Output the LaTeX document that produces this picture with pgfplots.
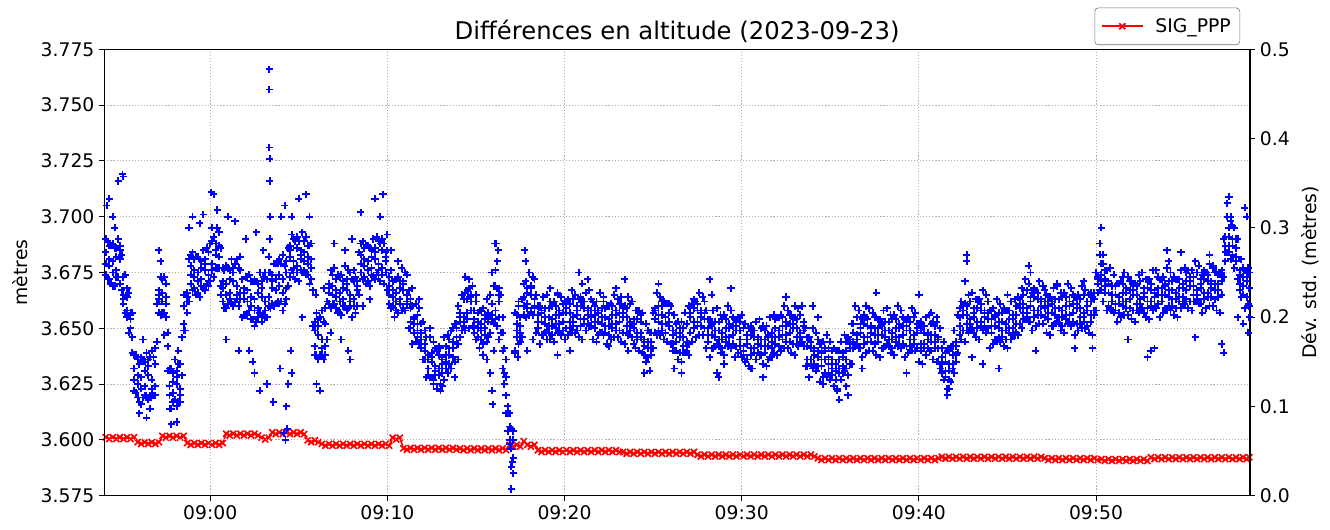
\documentclass[border=0pt]{standalone}
\usepackage{fontspec}
\setmainfont{DejaVu Sans}
\usepackage{pgfplots}
\usepackage{pgfplotstable}
\pgfplotsset{compat=1.18}
\pgfdeclareplotmark{bplus}{%
  \pgfsetstrokecolor{blue}%
  \pgfpathmoveto{\pgfqpoint{-\pgfplotmarksize}{0pt}}%
  \pgfpathlineto{\pgfqpoint{\pgfplotmarksize}{0pt}}%
  \pgfpathmoveto{\pgfqpoint{0pt}{-\pgfplotmarksize}}%
  \pgfpathlineto{\pgfqpoint{0pt}{\pgfplotmarksize}}%
  \pgfusepathqstroke}
\pgfplotstableread{
t a b c d r
-5.9 3.684 3.674 3.690 3.679 0.0655
-5.7 3.678 3.687 3.672 3.681 0.0635
-5.5 3.688 3.680 3.675 3.669 0.0655
-5.3 3.673 3.682 3.686 3.676 0.0635
-5.1 3.681 3.670 3.685 3.687 0.0655
-4.9 3.663 3.673 3.665 3.661 0.0635
-4.7 3.664 3.658 3.655 3.668 0.0655
-4.5 3.654 3.657 3.650 3.656 0.0635
-4.3 3.632 3.622 3.638 3.627 0.0655
-4.1 3.625 3.636 3.619 3.629 0.0600
-3.9 3.637 3.628 3.623 3.616 0.0580
-3.7 3.620 3.631 3.635 3.624 0.0600
-3.5 3.629 3.618 3.633 3.636 0.0580
-3.3 3.623 3.640 3.627 3.620 0.0600
-3.1 3.634 3.624 3.620 3.641 0.0580
-2.9 3.663 3.667 3.657 3.665 0.0600
-2.7 3.666 3.657 3.672 3.662 0.0670
-2.5 3.661 3.670 3.655 3.664 0.0650
-2.3 3.632 3.624 3.620 3.614 0.0670
-2.1 3.617 3.626 3.630 3.621 0.0650
-1.9 3.625 3.615 3.628 3.631 0.0670
-1.7 3.620 3.634 3.623 3.617 0.0650
-1.5 3.660 3.652 3.649 3.665 0.0670
-1.3 3.662 3.666 3.657 3.664 0.0590
-1.1 3.678 3.670 3.683 3.674 0.0570
-0.9 3.673 3.681 3.668 3.676 0.0590
-0.7 3.682 3.675 3.671 3.666 0.0570
-0.5 3.669 3.677 3.680 3.672 0.0590
-0.3 3.676 3.667 3.679 3.681 0.0570
-0.1 3.671 3.684 3.674 3.669 0.0590
0.1 3.689 3.679 3.676 3.695 0.0570
0.3 3.683 3.688 3.677 3.685 0.0590
0.5 3.687 3.677 3.693 3.682 0.0570
0.7 3.668 3.677 3.662 3.671 0.0590
0.9 3.678 3.670 3.665 3.659 0.0695
1.1 3.663 3.672 3.676 3.666 0.0675
1.3 3.671 3.660 3.675 3.677 0.0695
1.5 3.665 3.681 3.669 3.663 0.0675
1.7 3.676 3.666 3.663 3.682 0.0695
1.9 3.663 3.668 3.656 3.666 0.0675
2.1 3.667 3.656 3.673 3.662 0.0695
2.3 3.660 3.671 3.654 3.664 0.0675
2.5 3.672 3.663 3.658 3.651 0.0695
2.7 3.655 3.666 3.670 3.659 0.0675
2.9 3.664 3.653 3.668 3.671 0.0650
3.1 3.658 3.675 3.662 3.655 0.0630
3.3 3.675 3.664 3.660 3.682 0.0650
3.5 3.668 3.674 3.661 3.671 0.0710
3.7 3.672 3.661 3.679 3.667 0.0690
3.9 3.669 3.681 3.661 3.674 0.0710
4.1 3.683 3.672 3.666 3.658 0.0690
4.3 3.663 3.675 3.680 3.668 0.0710
4.5 3.682 3.673 3.685 3.687 0.0690
4.7 3.677 3.690 3.680 3.675 0.0710
4.9 3.686 3.678 3.675 3.691 0.0690
5.1 3.681 3.685 3.676 3.683 0.0710
5.3 3.684 3.676 3.689 3.680 0.0690
5.5 3.679 3.687 3.674 3.682 0.0620
5.7 3.688 3.681 3.677 3.672 0.0600
5.9 3.638 3.649 3.653 3.642 0.0620
6.1 3.647 3.636 3.651 3.654 0.0600
6.3 3.641 3.658 3.645 3.638 0.0580
6.5 3.652 3.642 3.638 3.659 0.0560
6.7 3.666 3.670 3.661 3.668 0.0580
6.9 3.669 3.661 3.674 3.665 0.0560
7.1 3.664 3.672 3.659 3.667 0.0580
7.3 3.673 3.666 3.662 3.657 0.0560
7.5 3.660 3.668 3.671 3.663 0.0580
7.7 3.667 3.658 3.670 3.672 0.0560
7.9 3.662 3.675 3.665 3.660 0.0580
8.1 3.671 3.663 3.660 3.676 0.0560
8.3 3.667 3.671 3.660 3.669 0.0580
8.5 3.683 3.675 3.688 3.679 0.0560
8.7 3.678 3.686 3.673 3.681 0.0580
8.9 3.687 3.680 3.676 3.671 0.0560
9.1 3.674 3.682 3.685 3.677 0.0580
9.3 3.681 3.672 3.684 3.686 0.0560
9.5 3.676 3.689 3.679 3.674 0.0580
9.7 3.685 3.677 3.674 3.690 0.0560
9.9 3.680 3.684 3.675 3.682 0.0580
10.1 3.669 3.661 3.673 3.665 0.0560
10.3 3.664 3.671 3.660 3.667 0.0650
10.5 3.672 3.666 3.662 3.658 0.0630
10.7 3.661 3.668 3.671 3.663 0.0650
10.9 3.667 3.659 3.670 3.671 0.0530
11.1 3.662 3.674 3.665 3.661 0.0515
11.3 3.659 3.653 3.650 3.663 0.0535
11.5 3.652 3.655 3.648 3.654 0.0515
11.7 3.652 3.646 3.656 3.649 0.0535
11.9 3.645 3.652 3.641 3.648 0.0515
12.1 3.649 3.643 3.640 3.636 0.0535
12.3 3.629 3.636 3.638 3.632 0.0515
12.5 3.635 3.628 3.637 3.639 0.0535
12.7 3.631 3.641 3.633 3.629 0.0515
12.9 3.638 3.632 3.629 3.642 0.0535
13.1 3.634 3.637 3.630 3.636 0.0515
13.3 3.638 3.632 3.642 3.635 0.0535
13.5 3.638 3.645 3.634 3.641 0.0515
13.7 3.650 3.644 3.641 3.637 0.0535
13.9 3.643 3.650 3.652 3.646 0.0515
14.1 3.653 3.646 3.655 3.657 0.0530
14.3 3.653 3.663 3.655 3.651 0.0510
14.5 3.663 3.657 3.654 3.667 0.0530
14.7 3.662 3.665 3.658 3.664 0.0510
14.9 3.654 3.648 3.658 3.651 0.0530
15.1 3.650 3.657 3.646 3.653 0.0510
15.3 3.658 3.652 3.649 3.645 0.0530
15.5 3.647 3.654 3.656 3.650 0.0510
15.7 3.653 3.646 3.655 3.657 0.0530
15.9 3.656 3.675 3.661 3.654 0.0510
16.1 3.669 3.658 3.654 3.676 0.0530
16.3 3.662 3.668 3.655 3.665 0.0510
16.5 3.648 3.640 3.632 3.655 0.0530
16.7 3.628 3.620 3.612 3.636 0.0510
16.9 3.606 3.598 3.612 3.600 0.0570
17.1 3.592 3.600 3.585 3.604 0.0550
17.3 3.652 3.646 3.656 3.649 0.0570
17.5 3.648 3.655 3.644 3.651 0.0550
17.7 3.670 3.664 3.660 3.656 0.0610
17.9 3.659 3.666 3.668 3.661 0.0570
18.1 3.665 3.657 3.668 3.669 0.0550
18.3 3.660 3.672 3.663 3.659 0.0570
18.5 3.656 3.650 3.660 3.653 0.0510
18.7 3.653 3.658 3.647 3.657 0.0490
18.9 3.652 3.659 3.648 3.655 0.0510
19.1 3.659 3.651 3.655 3.648 0.0490
19.3 3.660 3.654 3.651 3.647 0.0510
19.5 3.650 3.660 3.656 3.652 0.0490
19.7 3.649 3.656 3.658 3.652 0.0510
19.9 3.657 3.649 3.653 3.661 0.0490
20.1 3.657 3.650 3.659 3.661 0.0510
20.3 3.650 3.657 3.661 3.653 0.0490
20.5 3.653 3.663 3.655 3.651 0.0510
20.7 3.658 3.649 3.660 3.656 0.0490
20.9 3.660 3.654 3.651 3.664 0.0510
21.1 3.654 3.659 3.652 3.662 0.0490
21.3 3.656 3.659 3.652 3.658 0.0510
21.5 3.663 3.655 3.651 3.658 0.0490
21.7 3.656 3.650 3.660 3.653 0.0510
21.9 3.653 3.658 3.647 3.657 0.0490
22.1 3.652 3.659 3.648 3.655 0.0510
22.3 3.659 3.651 3.655 3.648 0.0490
22.5 3.660 3.654 3.651 3.647 0.0510
22.7 3.650 3.660 3.656 3.652 0.0490
22.9 3.649 3.656 3.658 3.652 0.0510
23.1 3.657 3.649 3.653 3.661 0.0490
23.3 3.655 3.648 3.657 3.659 0.0490
23.5 3.648 3.655 3.659 3.651 0.0470
23.7 3.651 3.661 3.653 3.649 0.0490
23.9 3.652 3.643 3.654 3.650 0.0470
24.1 3.654 3.648 3.645 3.658 0.0490
24.3 3.648 3.653 3.646 3.656 0.0470
24.5 3.642 3.645 3.638 3.644 0.0490
24.7 3.649 3.641 3.637 3.644 0.0470
24.9 3.644 3.638 3.648 3.641 0.0490
25.1 3.654 3.659 3.648 3.658 0.0470
25.3 3.653 3.660 3.649 3.656 0.0490
25.5 3.660 3.652 3.656 3.649 0.0470
25.7 3.661 3.655 3.652 3.648 0.0490
25.9 3.651 3.661 3.657 3.653 0.0470
26.1 3.640 3.647 3.649 3.643 0.0490
26.3 3.648 3.640 3.644 3.652 0.0470
26.5 3.646 3.639 3.648 3.650 0.0490
26.7 3.639 3.646 3.650 3.642 0.0470
26.9 3.642 3.652 3.644 3.640 0.0490
27.1 3.657 3.648 3.659 3.655 0.0470
27.3 3.659 3.653 3.650 3.663 0.0490
27.5 3.653 3.658 3.651 3.661 0.0460
27.7 3.655 3.658 3.651 3.657 0.0440
27.9 3.662 3.654 3.650 3.657 0.0460
28.1 3.650 3.644 3.654 3.647 0.0440
28.3 3.647 3.652 3.641 3.651 0.0460
28.5 3.646 3.653 3.642 3.649 0.0440
28.7 3.653 3.645 3.649 3.642 0.0460
28.9 3.654 3.648 3.645 3.641 0.0440
29.1 3.644 3.654 3.650 3.646 0.0460
29.3 3.643 3.650 3.652 3.646 0.0440
29.5 3.651 3.643 3.647 3.655 0.0460
29.7 3.649 3.642 3.651 3.653 0.0440
29.9 3.642 3.649 3.653 3.645 0.0460
30.1 3.640 3.650 3.642 3.638 0.0440
30.3 3.645 3.636 3.647 3.643 0.0460
30.5 3.647 3.641 3.638 3.651 0.0440
30.7 3.641 3.646 3.639 3.649 0.0460
30.9 3.643 3.646 3.639 3.645 0.0440
31.1 3.650 3.642 3.638 3.645 0.0460
31.3 3.645 3.639 3.649 3.642 0.0440
31.5 3.642 3.647 3.636 3.646 0.0460
31.7 3.641 3.648 3.637 3.644 0.0440
31.9 3.654 3.646 3.650 3.643 0.0460
32.1 3.655 3.649 3.646 3.642 0.0440
32.3 3.645 3.655 3.651 3.647 0.0460
32.5 3.644 3.651 3.653 3.647 0.0440
32.7 3.652 3.644 3.648 3.656 0.0460
32.9 3.650 3.643 3.652 3.654 0.0440
33.1 3.643 3.650 3.654 3.646 0.0460
33.3 3.646 3.656 3.648 3.644 0.0440
33.5 3.651 3.642 3.653 3.649 0.0460
33.7 3.642 3.636 3.633 3.646 0.0440
33.9 3.636 3.641 3.634 3.644 0.0460
34.1 3.638 3.641 3.634 3.640 0.0440
34.3 3.645 3.637 3.633 3.640 0.0420
34.5 3.639 3.633 3.643 3.636 0.0400
34.7 3.636 3.641 3.630 3.640 0.0420
34.9 3.634 3.641 3.630 3.637 0.0400
35.1 3.640 3.632 3.636 3.629 0.0420
35.3 3.640 3.634 3.631 3.627 0.0400
35.5 3.630 3.640 3.636 3.632 0.0420
35.7 3.630 3.637 3.639 3.633 0.0400
35.9 3.640 3.632 3.636 3.644 0.0420
36.1 3.641 3.634 3.643 3.645 0.0400
36.3 3.641 3.648 3.652 3.644 0.0420
36.5 3.645 3.655 3.647 3.643 0.0400
36.7 3.650 3.641 3.652 3.648 0.0420
36.9 3.652 3.646 3.643 3.656 0.0400
37.1 3.646 3.651 3.644 3.654 0.0420
37.3 3.648 3.651 3.644 3.650 0.0400
37.5 3.655 3.647 3.643 3.650 0.0420
37.7 3.650 3.644 3.654 3.647 0.0400
37.9 3.647 3.652 3.641 3.651 0.0420
38.1 3.646 3.653 3.642 3.649 0.0400
38.3 3.653 3.645 3.649 3.642 0.0420
38.5 3.654 3.648 3.645 3.641 0.0400
38.7 3.644 3.654 3.650 3.646 0.0420
38.9 3.643 3.650 3.652 3.646 0.0400
39.1 3.651 3.643 3.647 3.655 0.0420
39.3 3.649 3.642 3.651 3.653 0.0400
39.5 3.642 3.649 3.653 3.645 0.0420
39.7 3.645 3.655 3.647 3.643 0.0400
39.9 3.650 3.641 3.652 3.648 0.0420
40.1 3.649 3.643 3.640 3.653 0.0400
40.3 3.643 3.648 3.641 3.651 0.0420
40.5 3.645 3.648 3.641 3.647 0.0400
40.7 3.652 3.644 3.640 3.647 0.0420
40.9 3.647 3.641 3.651 3.644 0.0400
41.1 3.641 3.646 3.635 3.645 0.0420
41.3 3.634 3.641 3.630 3.637 0.0435
41.5 3.639 3.631 3.635 3.628 0.0415
41.7 3.640 3.634 3.631 3.627 0.0435
41.9 3.632 3.642 3.638 3.634 0.0415
42.1 3.635 3.642 3.644 3.638 0.0435
42.3 3.655 3.647 3.651 3.659 0.0415
42.5 3.656 3.649 3.658 3.660 0.0435
42.7 3.649 3.656 3.660 3.652 0.0415
42.9 3.652 3.662 3.654 3.650 0.0435
43.1 3.657 3.648 3.659 3.655 0.0415
43.3 3.659 3.653 3.650 3.663 0.0435
43.5 3.653 3.658 3.651 3.661 0.0415
43.7 3.655 3.658 3.651 3.657 0.0435
43.9 3.662 3.654 3.650 3.657 0.0415
44.1 3.654 3.648 3.658 3.651 0.0435
44.3 3.651 3.656 3.645 3.655 0.0415
44.5 3.650 3.657 3.646 3.653 0.0435
44.7 3.657 3.649 3.653 3.646 0.0415
44.9 3.658 3.652 3.649 3.645 0.0435
45.1 3.648 3.658 3.654 3.650 0.0415
45.3 3.647 3.654 3.656 3.650 0.0435
45.5 3.656 3.648 3.652 3.660 0.0415
45.7 3.659 3.652 3.661 3.663 0.0435
45.9 3.654 3.661 3.665 3.657 0.0415
46.1 3.657 3.667 3.659 3.655 0.0435
46.3 3.662 3.653 3.664 3.660 0.0415
46.5 3.664 3.658 3.655 3.668 0.0435
46.7 3.658 3.663 3.656 3.666 0.0415
46.9 3.660 3.663 3.656 3.662 0.0435
47.1 3.667 3.659 3.655 3.662 0.0420
47.3 3.660 3.654 3.664 3.657 0.0400
47.5 3.657 3.662 3.651 3.661 0.0420
47.7 3.656 3.663 3.652 3.659 0.0400
47.9 3.663 3.655 3.659 3.652 0.0420
48.1 3.664 3.658 3.655 3.651 0.0400
48.3 3.654 3.664 3.660 3.656 0.0420
48.5 3.653 3.660 3.662 3.656 0.0400
48.7 3.661 3.653 3.657 3.665 0.0420
48.9 3.659 3.652 3.661 3.663 0.0400
49.1 3.652 3.659 3.663 3.655 0.0420
49.3 3.655 3.665 3.657 3.653 0.0400
49.5 3.660 3.651 3.662 3.658 0.0420
49.7 3.662 3.656 3.653 3.666 0.0400
49.9 3.658 3.663 3.656 3.666 0.0420
50.1 3.670 3.673 3.666 3.672 0.0400
50.3 3.679 3.671 3.667 3.674 0.0410
50.5 3.672 3.666 3.676 3.669 0.0390
50.7 3.666 3.671 3.660 3.670 0.0410
50.9 3.662 3.669 3.658 3.665 0.0390
51.1 3.669 3.661 3.665 3.658 0.0410
51.3 3.670 3.664 3.661 3.657 0.0390
51.5 3.660 3.670 3.666 3.662 0.0410
51.7 3.659 3.666 3.668 3.662 0.0390
51.9 3.667 3.659 3.663 3.671 0.0410
52.1 3.665 3.658 3.667 3.669 0.0390
52.3 3.658 3.665 3.669 3.661 0.0410
52.5 3.661 3.671 3.663 3.659 0.0390
52.7 3.666 3.657 3.668 3.664 0.0410
52.9 3.668 3.662 3.659 3.672 0.0390
53.1 3.662 3.667 3.660 3.670 0.0430
53.3 3.664 3.667 3.660 3.666 0.0410
53.5 3.673 3.665 3.661 3.668 0.0430
53.7 3.668 3.662 3.672 3.665 0.0410
53.9 3.665 3.670 3.659 3.669 0.0430
54.1 3.664 3.671 3.660 3.667 0.0410
54.3 3.671 3.663 3.667 3.660 0.0430
54.5 3.672 3.666 3.663 3.659 0.0410
54.7 3.662 3.672 3.668 3.664 0.0430
54.9 3.661 3.668 3.670 3.664 0.0410
55.1 3.671 3.663 3.667 3.675 0.0430
55.3 3.669 3.662 3.671 3.673 0.0410
55.5 3.662 3.669 3.673 3.665 0.0430
55.7 3.665 3.675 3.667 3.663 0.0410
55.9 3.670 3.661 3.672 3.668 0.0430
56.1 3.672 3.666 3.663 3.676 0.0410
56.3 3.666 3.671 3.664 3.674 0.0430
56.5 3.668 3.671 3.664 3.670 0.0410
56.7 3.675 3.667 3.663 3.670 0.0430
56.9 3.670 3.664 3.674 3.667 0.0410
57.1 3.671 3.676 3.665 3.675 0.0430
57.3 3.684 3.691 3.680 3.687 0.0410
57.5 3.695 3.687 3.691 3.684 0.0430
57.7 3.696 3.690 3.687 3.683 0.0410
57.9 3.680 3.690 3.686 3.682 0.0430
58.1 3.667 3.674 3.676 3.670 0.0410
58.3 3.673 3.665 3.669 3.677 0.0430
58.5 3.671 3.664 3.673 3.675 0.0410
58.65 3.668 3.660 3.675 3.655 0.0430
}\maintab
\pgfplotstableread{
t e f
-5.8 3.689 3.672
-5.6 3.670 3.687
-5.4 3.686 3.669
-5.2 3.673 3.690
-5.0 3.683 3.667
-4.8 3.657 3.674
-4.6 3.666 3.648
-4.4 3.639 3.657
-4.2 3.638 3.621
-4.0 3.617 3.634
-3.8 3.635 3.619
-3.6 3.620 3.639
-3.4 3.637 3.620
-3.2 3.620 3.637
-3.0 3.661 3.644
-2.8 3.656 3.673
-2.6 3.673 3.657
-2.4 3.631 3.648
-2.2 3.632 3.614
-2.0 3.618 3.636
-1.8 3.634 3.617
-1.6 3.629 3.646
-1.4 3.665 3.649
-1.2 3.662 3.681
-1.0 3.684 3.667
-0.8 3.665 3.682
-0.6 3.681 3.664
-0.4 3.668 3.685
-0.2 3.686 3.670
0.0 3.671 3.688
0.2 3.691 3.673
0.4 3.677 3.695
0.6 3.686 3.669
0.8 3.659 3.676
1.0 3.677 3.661
1.2 3.662 3.681
1.4 3.679 3.662
1.6 3.660 3.677
1.8 3.672 3.655
2.0 3.656 3.673
2.2 3.674 3.658
2.4 3.654 3.671
2.6 3.671 3.653
2.8 3.657 3.675
3.0 3.673 3.656
3.2 3.655 3.672
3.4 3.675 3.659
3.6 3.660 3.679
3.8 3.679 3.662
4.0 3.662 3.679
4.2 3.678 3.661
4.4 3.669 3.686
4.6 3.692 3.676
4.8 3.672 3.689
5.0 3.689 3.671
5.2 3.675 3.693
5.4 3.691 3.674
5.6 3.670 3.687
5.8 3.667 3.651
6.0 3.638 3.657
6.2 3.655 3.638
6.4 3.636 3.653
6.6 3.662 3.645
6.8 3.659 3.676
7.0 3.677 3.661
7.2 3.657 3.674
7.4 3.674 3.656
7.6 3.660 3.678
7.8 3.676 3.659
8.0 3.655 3.672
8.2 3.673 3.657
8.4 3.665 3.684
8.6 3.689 3.672
8.8 3.670 3.687
9.0 3.686 3.669
9.2 3.673 3.690
9.4 3.691 3.675
9.6 3.671 3.688
9.8 3.688 3.670
10.0 3.667 3.685
10.2 3.676 3.659
10.4 3.655 3.672
10.6 3.673 3.657
10.8 3.658 3.677
11.0 3.675 3.658
11.2 3.650 3.667
11.4 3.660 3.643
11.6 3.644 3.661
11.8 3.659 3.643
12.0 3.636 3.653
12.2 3.646 3.628
12.4 3.628 3.646
12.6 3.644 3.627
12.8 3.623 3.640
13.0 3.641 3.625
13.2 3.627 3.646
13.4 3.647 3.630
13.6 3.632 3.649
13.8 3.652 3.635
14.0 3.643 3.660
14.2 3.665 3.649
14.4 3.649 3.666
14.6 3.668 3.650
14.8 3.651 3.669
15.0 3.662 3.645
15.2 3.641 3.658
15.4 3.659 3.643
15.6 3.644 3.663
15.8 3.665 3.648
16.0 3.652 3.669
16.2 3.668 3.651
16.4 3.648 3.665
16.6 3.630 3.641
16.8 3.612 3.604
17.0 3.596 3.588
17.2 3.639 3.657
17.4 3.660 3.643
17.6 3.646 3.663
17.8 3.671 3.655
18.0 3.656 3.675
18.2 3.673 3.656
18.4 3.648 3.665
18.6 3.660 3.643
18.8 3.647 3.664
19.0 3.665 3.649
19.2 3.645 3.662
19.4 3.662 3.644
19.6 3.648 3.666
19.8 3.664 3.647
20.0 3.645 3.662
20.2 3.663 3.647
20.4 3.648 3.667
20.6 3.665 3.648
20.8 3.646 3.663
21.0 3.662 3.645
21.2 3.649 3.666
21.4 3.667 3.651
21.6 3.645 3.662
21.8 3.662 3.644
22.0 3.648 3.666
22.2 3.664 3.647
22.4 3.643 3.660
22.6 3.661 3.645
22.8 3.646 3.665
23.0 3.663 3.646
23.2 3.644 3.661
23.4 3.660 3.643
23.6 3.647 3.664
23.8 3.662 3.646
24.0 3.641 3.658
24.2 3.658 3.640
24.4 3.639 3.657
24.6 3.652 3.635
24.8 3.631 3.648
25.0 3.657 3.641
25.2 3.647 3.666
25.4 3.664 3.647
25.6 3.645 3.662
25.8 3.661 3.644
26.0 3.643 3.660
26.2 3.656 3.640
26.4 3.636 3.653
26.6 3.653 3.635
26.8 3.639 3.657
27.0 3.660 3.643
27.2 3.644 3.661
27.4 3.662 3.646
27.6 3.647 3.666
27.8 3.664 3.647
28.0 3.641 3.658
28.2 3.654 3.637
28.4 3.641 3.658
28.6 3.659 3.643
28.8 3.639 3.656
29.0 3.656 3.638
29.2 3.642 3.660
29.4 3.658 3.641
29.6 3.637 3.654
29.8 3.655 3.639
30.0 3.637 3.656
30.2 3.652 3.635
30.4 3.633 3.650
30.6 3.649 3.632
30.8 3.636 3.653
31.0 3.654 3.638
31.2 3.634 3.651
31.4 3.651 3.633
31.6 3.637 3.655
31.8 3.656 3.639
32.0 3.638 3.655
32.2 3.656 3.640
32.4 3.641 3.660
32.6 3.658 3.641
32.8 3.639 3.656
33.0 3.655 3.638
33.2 3.642 3.659
33.4 3.660 3.644
33.6 3.633 3.650
33.8 3.646 3.628
34.0 3.632 3.650
34.2 3.648 3.631
34.4 3.626 3.643
34.6 3.644 3.628
34.8 3.628 3.647
35.0 3.644 3.627
35.2 3.624 3.641
35.4 3.640 3.623
35.6 3.627 3.644
35.8 3.647 3.631
36.0 3.629 3.646
36.2 3.652 3.634
36.4 3.642 3.660
36.6 3.658 3.641
36.8 3.637 3.654
37.0 3.655 3.639
37.2 3.640 3.659
37.4 3.657 3.640
37.6 3.638 3.655
37.8 3.654 3.637
38.0 3.641 3.658
38.2 3.659 3.643
38.4 3.639 3.656
38.6 3.656 3.638
38.8 3.642 3.660
39.0 3.658 3.641
39.2 3.637 3.654
39.4 3.655 3.639
39.6 3.640 3.659
39.8 3.657 3.640
40.0 3.635 3.652
40.2 3.651 3.634
40.4 3.638 3.655
40.6 3.656 3.640
40.8 3.636 3.653
41.0 3.653 3.635
41.2 3.632 3.650
41.4 3.644 3.627
41.6 3.623 3.640
41.8 3.642 3.626
42.0 3.630 3.649
42.2 3.656 3.639
42.4 3.645 3.662
42.6 3.661 3.644
42.8 3.648 3.665
43.0 3.666 3.650
43.2 3.646 3.663
43.4 3.663 3.645
43.6 3.649 3.667
43.8 3.665 3.648
44.0 3.641 3.658
44.2 3.659 3.643
44.4 3.644 3.663
44.6 3.661 3.644
44.8 3.642 3.659
45.0 3.658 3.641
45.2 3.645 3.662
45.4 3.663 3.647
45.6 3.647 3.664
45.8 3.668 3.650
46.0 3.654 3.672
46.2 3.670 3.653
46.4 3.649 3.666
46.6 3.667 3.651
46.8 3.652 3.671
47.0 3.669 3.652
47.2 3.648 3.665
47.4 3.664 3.647
47.6 3.651 3.668
47.8 3.669 3.653
48.0 3.649 3.666
48.2 3.666 3.648
48.4 3.652 3.670
48.6 3.668 3.651
48.8 3.647 3.664
49.0 3.665 3.649
49.2 3.650 3.669
49.4 3.667 3.650
49.6 3.648 3.665
49.8 3.664 3.647
50.0 3.658 3.675
50.2 3.683 3.667
50.4 3.662 3.679
50.6 3.676 3.658
50.8 3.659 3.677
51.0 3.674 3.657
51.2 3.653 3.670
51.4 3.671 3.655
51.6 3.656 3.675
51.8 3.673 3.656
52.0 3.654 3.671
52.2 3.670 3.653
52.4 3.657 3.674
52.6 3.675 3.659
52.8 3.655 3.672
53.0 3.672 3.654
53.2 3.658 3.676
53.4 3.676 3.659
53.6 3.655 3.672
53.8 3.673 3.657
54.0 3.658 3.677
54.2 3.675 3.658
54.4 3.656 3.673
54.6 3.672 3.655
54.8 3.659 3.676
55.0 3.677 3.661
55.2 3.659 3.676
55.4 3.676 3.658
55.6 3.662 3.680
55.8 3.678 3.661
56.0 3.657 3.674
56.2 3.675 3.659
56.4 3.660 3.679
56.6 3.677 3.660
56.8 3.658 3.675
57.0 3.674 3.657
57.2 3.673 3.690
57.4 3.700 3.684
57.6 3.681 3.698
57.8 3.695 3.677
58.0 3.672 3.690
58.2 3.681 3.664
58.4 3.659 3.676
58.6 3.677 3.661
}\halftab
\pgfplotstableread{
t y
-5.85 3.705
-5.7 3.708
-5.5 3.700
-5.4 3.695
-5.2 3.716
-4.95 3.719
-4.9 3.718
-4.0 3.612
-3.6 3.610
-3.8 3.645
-4.4 3.646
-3.4 3.614
-2.9 3.685
-2.8 3.680
-2.6 3.647
-2.2 3.607
-1.9 3.608
-2.4 3.642
-1.8 3.640
-1.0 3.700
-0.6 3.697
-0.4 3.701
-1.2 3.695
0.05 3.711
0.2 3.710
0.4 3.703
0.6 3.665
1.0 3.700
1.4 3.698
0.9 3.645
1.6 3.640
2.0 3.690
2.4 3.635
2.5 3.630
2.8 3.622
3.0 3.685
2.2 3.640
2.6 3.693
3.33 3.766
3.33 3.757
3.33 3.731
3.35 3.726
3.35 3.716
3.38 3.700
3.35 3.690
3.2 3.625
3.55 3.617
3.95 3.632
4.0 3.700
4.2 3.705
4.15 3.603
4.25 3.600
4.35 3.605
4.3 3.615
4.4 3.625
4.6 3.700
5.0 3.708
5.4 3.710
5.6 3.700
4.55 3.640
4.6 3.630
5.2 3.655
6.0 3.625
6.2 3.622
6.4 3.668
5.95 3.665
7.0 3.688
7.6 3.685
8.0 3.690
7.8 3.640
7.9 3.636
7.4 3.645
6.8 3.648
8.5 3.702
9.3 3.708
9.6 3.700
9.75 3.710
9.0 3.663
8.6 3.660
10.2 3.685
10.6 3.680
10.0 3.692
11.4 3.668
11.8 3.663
13.0 3.622
13.1 3.624
12.6 3.625
12.4 3.650
13.8 3.628
14.4 3.673
14.6 3.672
14.0 3.636
15.0 3.665
15.4 3.638
15.6 3.636
15.8 3.630
15.9 3.622
15.95 3.616
16.05 3.688
16.15 3.688
16.25 3.685
16.2 3.680
16.0 3.640
16.3 3.645
17.0 3.578
17.05 3.590
16.8 3.615
16.6 3.625
17.0 3.605
16.95 3.596
17.4 3.662
17.2 3.640
17.35 3.637
17.75 3.685
17.8 3.680
18.0 3.675
18.2 3.645
17.9 3.640
19.2 3.668
19.6 3.665
20.8 3.675
21.0 3.670
21.3 3.672
20.3 3.640
19.0 3.645
19.6 3.638
22.2 3.662
22.9 3.668
23.4 3.672
23.2 3.664
24.5 3.630
24.2 3.640
25.3 3.670
25.5 3.662
26.2 3.632
26.6 3.630
27.0 3.638
22.5 3.642
23.6 3.640
28.2 3.672
28.3 3.665
29.4 3.668
28.6 3.630
28.7 3.628
29.0 3.634
30.5 3.632
31.2 3.628
32.5 3.664
33.0 3.660
34.0 3.660
34.3 3.655
34.6 3.625
35.4 3.622
35.5 3.618
36.0 3.620
35.9 3.624
37.0 3.660
37.6 3.666
36.8 3.632
39.3 3.630
40.0 3.665
40.7 3.657
41.0 3.655
41.6 3.620
41.7 3.623
42.7 3.683
42.7 3.680
42.6 3.671
43.0 3.637
43.6 3.634
44.5 3.632
45.0 3.665
46.2 3.678
46.3 3.675
46.6 3.640
47.8 3.670
48.2 3.666
48.8 3.641
49.3 3.671
49.8 3.641
50.3 3.695
50.2 3.688
50.4 3.683
51.5 3.673
51.8 3.645
52.9 3.637
53.1 3.640
53.3 3.641
54.0 3.685
54.1 3.680
54.8 3.684
55.6 3.646
56.4 3.683
56.6 3.678
57.1 3.643
57.2 3.639
57.4 3.706
57.5 3.709
57.6 3.700
58.4 3.704
58.5 3.700
58.0 3.655
58.6 3.648
58.3 3.652
}\outtab
\begin{document}
\begin{tikzpicture}
\pgfplotsset{
 common/.style={
  scale only axis, width=824.9pt, height=321.4pt,
  xmin=-5.98, xmax=58.69,
  at={(0pt,0pt)}, anchor=south west,
  /pgf/number format/assume math mode=true,
  tick label style={font=\fontsize{13.5}{16}\selectfont},
  tick align=outside, major tick length=3.6pt,
  every tick/.style={black, line width=0.8pt},
  axis line style={line width=0.9pt},
  xtick={0,10,20,30,40,50},
  xticklabels={09:00,09:10,09:20,09:30,09:40,09:50},
 },
 bluemk/.style={only marks, mark=bplus, color=blue, draw=blue, mark size=2.6pt, line width=1.35pt, mark options={solid}},
}
\begin{axis}[common,
  ymin=0, ymax=0.5, ytick={0,0.1,0.2,0.3,0.4,0.5},
  axis y line*=right, axis x line=none,
  yticklabel style={/pgf/number format/.cd, fixed, precision=1, fixed zerofill},
  ylabel={Dév. std. (mètres)},
  every axis y label/.style={at={(axis description cs:1.0524,0.5)}, rotate=90, anchor=center, font=\fontsize{13.5}{16}\selectfont},
  legend style={at={(axis description cs:0.9913,1.0096)}, anchor=south east, draw=black!55, rounded corners=2.5pt, font=\fontsize{13.5}{16}\selectfont, inner xsep=4.5pt, inner ysep=5.5pt},
  legend image code/.code={\draw[mark repeat=2,mark phase=2,#1] plot coordinates {(0pt,0pt) (14.7pt,0pt) (29.5pt,0pt)};},
]
\addplot[color=red, line width=1.2pt, mark=x, mark size=3.1pt, mark options={draw=red, solid}] table[x=t,y=r]{\maintab};
\addlegendentry{\hspace{6.5pt}SIG\_PPP}
\end{axis}
\begin{axis}[common,
  ymin=3.575, ymax=3.775,
  ytick={3.575,3.6,3.625,3.65,3.675,3.7,3.725,3.75,3.775},
  scaled y ticks=false,
  xtick pos=left, ytick pos=left,
  yticklabel style={/pgf/number format/.cd, fixed, precision=3, fixed zerofill},
  grid=major, grid style={color=black!31, dash pattern=on 0.8pt off 1.4pt, line width=0.6pt},
  ylabel={mètres},
  every axis y label/.style={at={(axis description cs:-0.0736,0.5)}, rotate=90, anchor=center, font=\fontsize{13.5}{16}\selectfont},
  title={Différences en altitude (2023-09-23)},
  title style={at={(axis description cs:0.5,1)}, anchor=base, yshift=1.2pt, font=\fontsize{17.5}{20}\selectfont},
]
\addplot[bluemk] table[x=t,y=y]{\outtab};
\addplot[bluemk] table[x=t,y=a]{\maintab};
\addplot[bluemk] table[x=t,y=b]{\maintab};
\addplot[bluemk] table[x=t,y=c]{\maintab};
\addplot[bluemk] table[x=t,y=d]{\maintab};
\addplot[bluemk] table[x=t,y=e]{\halftab};
\addplot[bluemk] table[x=t,y=f]{\halftab};
\end{axis}
\pgfresetboundingbox
\path[use as bounding box] (-75.1pt,-24pt) rectangle (882.5pt,356.9pt);
\end{tikzpicture}
\end{document}
